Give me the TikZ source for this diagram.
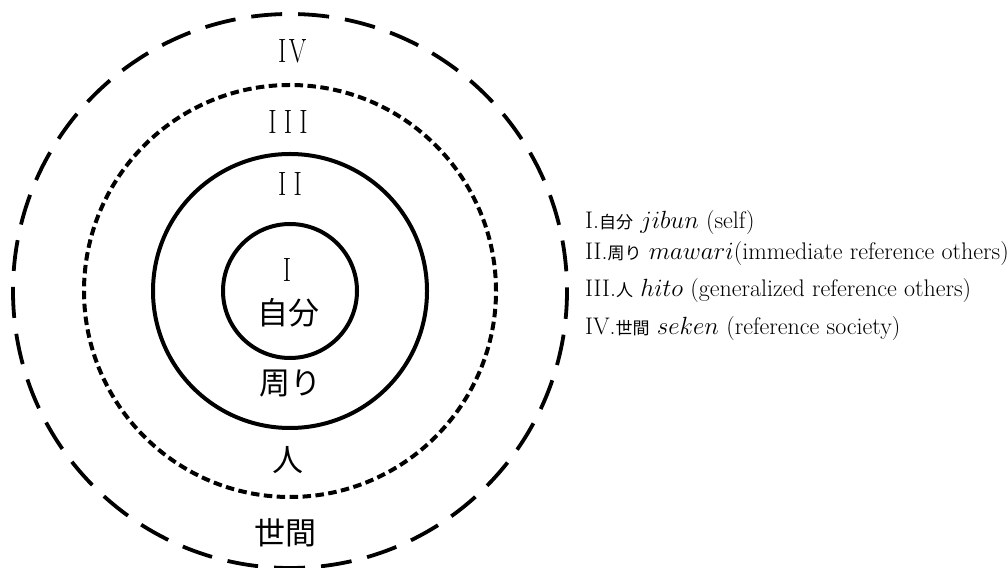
\documentclass[tikz,border=0pt]{standalone}
\usepackage{fontspec}
\usepackage{graphicx}
\newfontfamily\jp{Noto Sans CJK JP}
\newcommand\rnum[1]{\makebox[15.5pt]{\scalebox{0.75}[1]{\fontsize{33.7}{36}\selectfont #1}}}
\newcommand\jsmall[1]{{\jp\fontsize{17}{20}\selectfont #1}}
\tikzset{
  solidring/.style={draw=black, line width=4pt},
  dottedring/.style={draw=black, line width=4pt, dash pattern=on 8.5pt off 4.44pt},
  dashedring/.style={draw=black, line width=3.8pt, dash pattern=on 31pt off 16.03pt, dash phase=27.3pt},
  numlabel/.style={inner sep=0pt, anchor=center},
  jplabel/.style={inner sep=0pt, anchor=center, font=\jp\fontsize{31}{34}\selectfont},
  legend/.style={inner sep=0pt, anchor=base west, font=\fontsize{24}{28}\selectfont}
}
\begin{document}
\begin{tikzpicture}[x=1pt,y=1pt]
\useasboundingbox (0,0) rectangle (1008,567);
\coordinate (c) at (290,276);
\draw[solidring] (c) circle[radius=67];
\draw[solidring] (c) circle[radius=137];
\draw[dottedring] (c) circle[radius=206];
\draw[dashedring] (c) circle[radius=277];
% ring labels
\node[numlabel] (n4) at (290,516) {\rnum{I}\rnum{V}};
\node[numlabel] (n3) at (288,445.5) {\rnum{I}\rnum{I}\rnum{I}};
\node[numlabel] (n2) at (290,383) {\rnum{I}\rnum{I}};
\node[numlabel] (n1) at (287,297) {\rnum{I}};
\node[jplabel] (j1) at (288,254) {自分};
\node[jplabel] (j2) at (290,183) {周り};
\node[jplabel] (j3) at (288,107) {人};
\node[jplabel] (j4) at (285,34) {世間};
% legend
\node[legend] (l1) at (585,338) {I.\jsmall{自分} $jibun$ (self)};
\node[legend] (l2) at (585,307) {II.\jsmall{周り} $mawari$(immediate reference others)};
\node[legend] (l3) at (585,270) {III.\jsmall{人} $hito$ (generalized reference others)};
\node[legend] (l4) at (585,232) {IV.\jsmall{世間} $seken$ (reference society)};
\end{tikzpicture}
\end{document}
